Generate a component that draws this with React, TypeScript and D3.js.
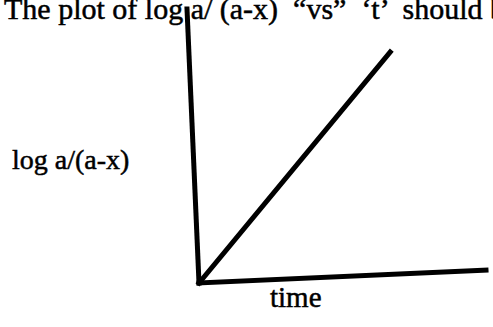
import React from "react";
import * as d3 from "d3";

// First-order kinetics sketch: log a/(a-x) grows linearly with time.
const timeValues = [0, 7];
const logRatioValues = [0, 8.1];
const axisMax = [10, 10];

const titleText = "The plot of log a/ (a-x)  \u201cvs\u201d  \u2018t\u2019  should be";
const yLabel = "log a/(a-x)";
const xLabel = "time";

const W = 493;
const H = 327;

// The drawing is slightly skewed: axes are not perfectly orthogonal.
const origin = [199, 283];
const xEnd = [486, 270];
const yEnd = [187, 9];

export default function App() {
  const sx = d3.scaleLinear().domain([0, axisMax[0]]).range([0, 1]);
  const sy = d3.scaleLinear().domain([0, axisMax[1]]).range([0, 1]);

  const project = (t: number, v: number): [number, number] => {
    const u = sx(t);
    const w = sy(v);
    return [
      origin[0] + u * (xEnd[0] - origin[0]) + w * (yEnd[0] - origin[0]),
      origin[1] + u * (xEnd[1] - origin[1]) + w * (yEnd[1] - origin[1]),
    ];
  };

  const line = d3
    .line<number>()
    .x((_, i) => project(timeValues[i], logRatioValues[i])[0])
    .y((_, i) => project(timeValues[i], logRatioValues[i])[1]);

  const xAxisPath = d3.line()([project(0, 0), project(axisMax[0], 0)]);
  const yAxisPath = d3.line()([project(0, 0), project(0, axisMax[1])]);
  const dataPath = line(timeValues) ?? "";

  const font = "'Liberation Serif', 'Times New Roman', serif";
  const textStyle = {
    fontFamily: font,
    fill: "#000",
    stroke: "#000",
    strokeWidth: 0.5,
  };

  return (
    <svg
      width={W}
      height={H}
      viewBox={`0 0 ${W} ${H}`}
      style={{ position: "fixed", left: 0, top: 0, background: "#fff" }}
    >
      <rect width={W} height={H} fill="#fff" />
      <text x={4} y={19} fontSize={30} style={textStyle} xmlSpace="preserve">
        {titleText}
      </text>
      <path d={yAxisPath ?? ""} stroke="#000" strokeWidth={5} fill="none" strokeLinecap="square" />
      <path d={xAxisPath ?? ""} stroke="#000" strokeWidth={5} fill="none" strokeLinecap="square" />
      <path d={dataPath} stroke="#000" strokeWidth={5} fill="none" strokeLinecap="square" />
      <text x={12} y={169} fontSize={28} style={textStyle}>
        {yLabel}
      </text>
      <text x={270} y={307} fontSize={29} style={textStyle}>
        {xLabel}
      </text>
    </svg>
  );
}
